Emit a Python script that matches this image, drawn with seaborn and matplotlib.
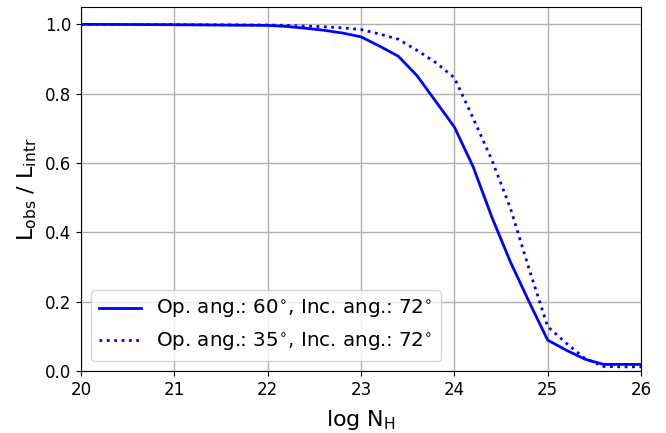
"""Observed / intrinsic luminance against column density"""

import matplotlib

matplotlib.use("Agg")
import matplotlib.pyplot as plt
import pandas as pd
import seaborn as sns

log_nh = [20.0, 21.0, 22.0, 22.2, 22.4, 22.6, 22.8, 23.0, 23.2, 23.4, 23.6, 23.8,
          24.0, 24.2, 24.4, 24.6, 24.8, 25.0, 25.2, 25.4, 25.6, 25.8, 26.0]

# Op. ang. 60, Inc. ang. 72
ratio_60 = [1.0, 0.999, 0.997, 0.994, 0.989, 0.983, 0.975, 0.964, 0.937, 0.908,
            0.852, 0.778, 0.704, 0.59, 0.445, 0.315, 0.2, 0.089, 0.06, 0.034,
            0.019, 0.019, 0.019]

# Op. ang. 35, Inc. ang. 72
ratio_35 = [1.0, 0.999, 0.998, 0.997, 0.995, 0.993, 0.99, 0.985, 0.972, 0.957,
            0.925, 0.89, 0.846, 0.73, 0.61, 0.47, 0.295, 0.128, 0.08, 0.036,
            0.013, 0.012, 0.012]

labels = [r"Op. ang.: 60$^{\circ}$, Inc. ang.: 72$^{\circ}$",
          r"Op. ang.: 35$^{\circ}$, Inc. ang.: 72$^{\circ}$"]

df = pd.concat(
    [
        pd.DataFrame({"log_nh": log_nh, "ratio": ratio_60, "model": labels[0]}),
        pd.DataFrame({"log_nh": log_nh, "ratio": ratio_35, "model": labels[1]}),
    ],
    ignore_index=True,
)

fig, ax = plt.subplots(figsize=(6.66, 4.33), dpi=100)
fig.subplots_adjust(left=0.1216, right=0.9625, bottom=0.1432, top=0.9838)

sns.lineplot(
    data=df,
    x="log_nh",
    y="ratio",
    hue="model",
    style="model",
    palette=["blue", "blue"],
    dashes=[(None, None), (1, 1.65)],
    linewidth=2,
    ax=ax,
)

ax.set_xlim(20, 26)
ax.set_ylim(0, 1.05)
ax.set_xlabel(r"log N$_{\rm H}$", fontsize=16, labelpad=7)
ax.set_ylabel(r"L$_{\rm obs}$ / L$_{\rm intr}$", fontsize=16)
ax.tick_params(labelsize=12)
ax.grid(True, color="#b0b0b0", linewidth=1)
ax.set_axisbelow(True)

handles, _ = ax.get_legend_handles_labels()
ax.legend(handles=handles, labels=labels, loc="lower left", fontsize=14.3,
          handlelength=2.1)

plt.savefig("out.png", dpi=100)
